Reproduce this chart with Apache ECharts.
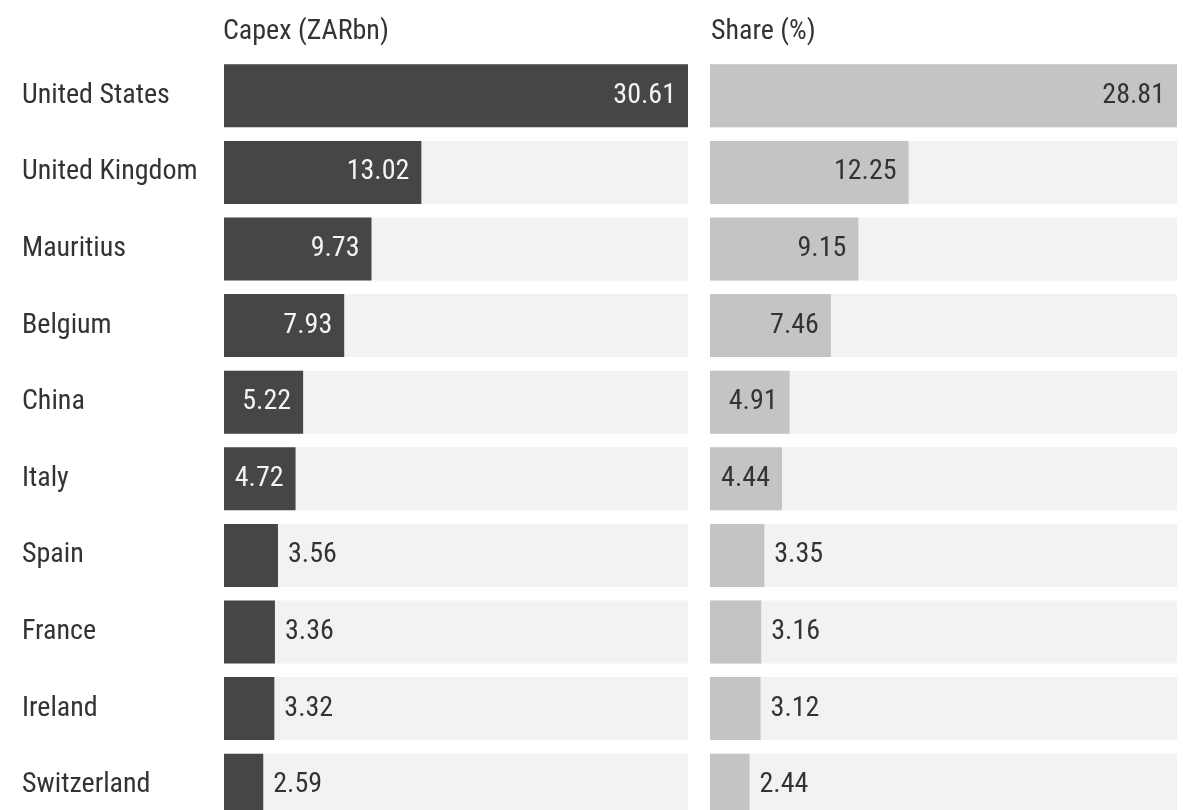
<!DOCTYPE html>
<html>
<head>
<meta charset="utf-8">
<script src="https://cdn.jsdelivr.net/npm/echarts@6/dist/echarts.min.js"></script>
<style>
  html, body { margin: 0; padding: 0; background: #fff; }
  #chart-dom { width: 1183px; height: 810px; }
</style>
</head>
<body>
<div id="chart-dom"></div>
<script>
const countries = ['United States', 'United Kingdom', 'Mauritius', 'Belgium', 'China',
  'Italy', 'Spain', 'France', 'Ireland', 'Switzerland'];
const capex = [30.61, 13.02, 9.73, 7.93, 5.22, 4.72, 3.56, 3.36, 3.32, 2.59];
const share = [28.81, 12.25, 9.15, 7.46, 4.91, 4.44, 3.35, 3.16, 3.12, 2.44];
const headers = ['Capex (ZARbn)', 'Share (%)'];

const FONT = "'Roboto Condensed', 'Liberation Sans Narrow', 'DejaVu Sans Condensed', sans-serif";

// small bars get their label outside, the rest inside at the end
function toItems(values, insideColor, cut) {
  return values.map(function (v) {
    const inside = v > cut;
    return {
      value: v,
      label: {
        position: inside ? 'insideRight' : 'right',
        distance: inside ? 12 : 10,
        color: inside ? insideColor : '#333'
      }
    };
  });
}

const myChart = echarts.init(document.getElementById('chart-dom'));
const option = {
  animation: false,
  title: [
    { text: headers[0], left: 218, top: 13, textStyle: { fontFamily: FONT, fontSize: 28, fontWeight: 'normal', color: '#333' } },
    { text: headers[1], left: 706, top: 13, textStyle: { fontFamily: FONT, fontSize: 28, fontWeight: 'normal', color: '#333' } }
  ],
  grid: [
    { left: 224, width: 464, top: 57.5, height: 766, outerBoundsMode: 'none' },
    { left: 710, width: 467, top: 57.5, height: 766, outerBoundsMode: 'none' }
  ],
  xAxis: [
    { gridIndex: 0, type: 'value', min: 0, max: capex[0], show: false },
    { gridIndex: 1, type: 'value', min: 0, max: share[0], show: false }
  ],
  yAxis: [
    {
      gridIndex: 0, type: 'category', inverse: true, data: countries,
      axisLine: { show: false }, axisTick: { show: false },
      axisLabel: { align: 'left', margin: 202, padding: [5, 0, 0, 0], fontFamily: FONT, fontSize: 28, color: '#333' }
    },
    {
      gridIndex: 1, type: 'category', inverse: true, data: countries,
      axisLine: { show: false }, axisTick: { show: false }, axisLabel: { show: false }
    }
  ],
  series: [
    {
      type: 'bar', xAxisIndex: 0, yAxisIndex: 0, barWidth: 63,
      data: toItems(capex, '#f4f4f4', 4),
      itemStyle: { color: '#464646' },
      showBackground: true, backgroundStyle: { color: '#f2f2f2' },
      label: { show: true, fontFamily: FONT, fontSize: 28, padding: [4, 0, 0, 0] }
    },
    {
      type: 'bar', xAxisIndex: 1, yAxisIndex: 1, barWidth: 63,
      data: toItems(share, '#333', 4),
      itemStyle: { color: '#c4c4c4' },
      showBackground: true, backgroundStyle: { color: '#f2f2f2' },
      label: { show: true, fontFamily: FONT, fontSize: 28, padding: [4, 0, 0, 0] }
    }
  ]
};
myChart.setOption(option, true);
</script>
</body>
</html>
